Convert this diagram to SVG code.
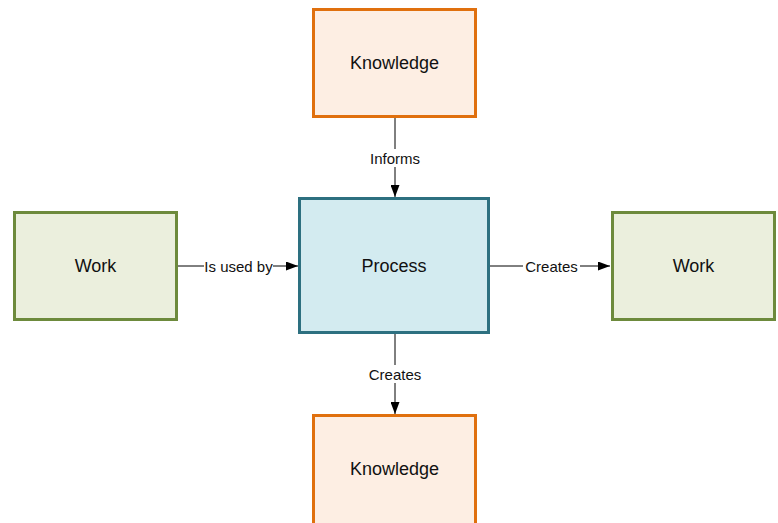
<svg xmlns="http://www.w3.org/2000/svg" width="778" height="523" viewBox="0 0 778 523">
<style>
.know{fill:#FDEEE3;stroke:#E0700E;stroke-width:3}
.work{fill:#EBEFDD;stroke:#6D8A3C;stroke-width:3}
.proc{fill:#D3EBF0;stroke:#2D7080;stroke-width:3}
.nt{font-family:"Liberation Sans",Arial,sans-serif;font-size:18px;fill:#111;text-anchor:middle;dominant-baseline:central}
.lt{font-family:"Liberation Sans",Arial,sans-serif;font-size:15px;fill:#111;text-anchor:middle;dominant-baseline:central}
.ln{stroke:#000;stroke-width:1;fill:none}
.lb{fill:#fff}
</style>
<defs>
<marker id="ah" markerWidth="12" markerHeight="9" refX="12" refY="4.5" orient="auto" markerUnits="userSpaceOnUse">
<path d="M0,0 L12,4.5 L0,9 Z" fill="#000"/>
</marker>
</defs>
<rect width="778" height="523" fill="#fff"/>
<g id="connectors">
<line class="ln" x1="395" y1="117" x2="395" y2="197" marker-end="url(#ah)"/>
<rect class="lb" x="368" y="149" width="54" height="18"/>
<text class="lt" x="395" y="158">Informs</text>
<line class="ln" x1="395" y1="334" x2="395" y2="414" marker-end="url(#ah)"/>
<rect class="lb" x="366" y="365" width="58" height="18"/>
<text class="lt" x="395" y="374">Creates</text>
<line class="ln" x1="178" y1="266" x2="298" y2="266" marker-end="url(#ah)"/>
<rect class="lb" x="204" y="257" width="69" height="18"/>
<text class="lt" x="238.5" y="266">Is used by</text>
<line class="ln" x1="490" y1="266" x2="610" y2="266" marker-end="url(#ah)"/>
<rect class="lb" x="523" y="257" width="57" height="18"/>
<text class="lt" x="551.5" y="266">Creates</text>
</g>
<g id="knowledge-top">
<rect class="know" x="313.5" y="9.5" width="162" height="107"/>
<text class="nt" x="394.5" y="63">Knowledge</text>
</g>
<g id="process">
<rect class="proc" x="299.5" y="198.5" width="189" height="134"/>
<text class="nt" x="394" y="266">Process</text>
</g>
<g id="work-left">
<rect class="work" x="14.5" y="212.5" width="162" height="107"/>
<text class="nt" x="95.5" y="266">Work</text>
</g>
<g id="work-right">
<rect class="work" x="612.5" y="212.5" width="162" height="107"/>
<text class="nt" x="693.5" y="266">Work</text>
</g>
<g id="knowledge-bottom">
<rect class="know" x="313.5" y="415.5" width="162" height="110"/>
<text class="nt" x="394.5" y="469">Knowledge</text>
</g>
</svg>
